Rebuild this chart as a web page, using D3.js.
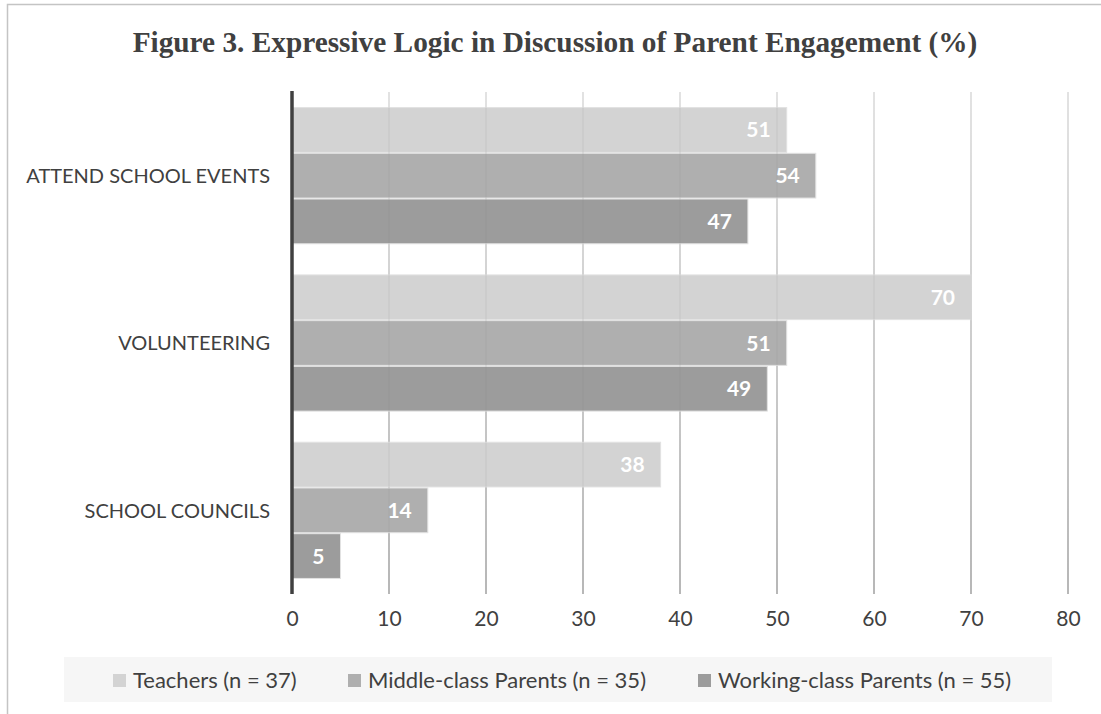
<!DOCTYPE html>
<html><head><meta charset="utf-8">
<script src="https://cdn.jsdelivr.net/npm/d3@7"></script>
<style>body{margin:0;background:#fff}</style>
</head><body>
<svg id="chart" width="1101" height="714"></svg>
<script>
const title = "Figure 3. Expressive Logic in Discussion of Parent Engagement (%)";
const categories = ["ATTEND SCHOOL EVENTS", "VOLUNTEERING", "SCHOOL COUNCILS"];
const seriesNames = ["Teachers (n = 37)", "Middle-class Parents (n = 35)", "Working-class Parents (n = 55)"];
const teachers = [51, 70, 38];
const middleClass = [54, 51, 14];
const workingClass = [47, 49, 5];
const tickValues = [0, 10, 20, 30, 40, 50, 60, 70, 80];
const colors = ["#d3d3d3", "#afafaf", "#9c9c9c"];

const series = [teachers, middleClass, workingClass];
const svg = d3.select("#chart");
const font = "Lato, 'Open Sans', sans-serif";
const textColor = "#404040";

// figure border
svg.append("path").attr("d", "M7.5,714 V4.5 H1101").attr("fill", "none")
  .attr("stroke", "#c4c4c4").attr("stroke-width", 1.5);

// title
svg.append("text").attr("x", 555).attr("y", 52).attr("text-anchor", "middle")
  .attr("font-family", "'Liberation Serif', 'Times New Roman', serif")
  .attr("font-weight", "bold").attr("font-size", 29.3).attr("fill", textColor).text(title);

const x = d3.scaleLinear().domain([0, 80]).range([292, 1068]);
const y0 = d3.scaleBand().domain(categories).range([92, 594]).paddingInner(0.18).paddingOuter(0.09);
const y1 = d3.scaleBand().domain(d3.range(series.length)).range([0, y0.bandwidth()]);

// gridline gradient
const defs = svg.append("defs");
const grad = defs.append("linearGradient").attr("id", "gridGrad")
  .attr("gradientUnits", "userSpaceOnUse").attr("x1", 0).attr("x2", 0).attr("y1", 92).attr("y2", 594);
grad.append("stop").attr("offset", "0").attr("stop-color", "#e6e6e6");
grad.append("stop").attr("offset", "1").attr("stop-color", "#a6a6a6");

const gridVals = tickValues.filter(d => d > 0);
svg.append("g").selectAll("line").data(gridVals).join("line")
  .attr("x1", d => x(d)).attr("x2", d => x(d)).attr("y1", 92).attr("y2", 594)
  .attr("stroke", "url(#gridGrad)").attr("stroke-width", 1.5);

// bars
const rows = [];
categories.forEach((c, i) => series.forEach((s, j) => rows.push({c, j, v: s[i]})));
svg.append("g").selectAll("rect").data(rows).join("rect")
  .attr("x", x(0)).attr("y", d => y0(d.c) + y1(d.j) + 0.5)
  .attr("width", d => x(d.v) - x(0)).attr("height", y1.bandwidth() - 1)
  .attr("fill", d => colors[d.j]).attr("stroke", "#e2e2e2").attr("stroke-width", 1);

// faint gridlines showing through bars
svg.append("g").selectAll("line").data(gridVals).join("line")
  .attr("x1", d => x(d)).attr("x2", d => x(d)).attr("y1", 92).attr("y2", 594)
  .attr("stroke", "#808080").attr("stroke-opacity", 0.12).attr("stroke-width", 1.5);

// value labels
svg.append("g").selectAll("text").data(rows).join("text")
  .attr("x", d => x(d.v) - 16).attr("y", d => y0(d.c) + y1(d.j) + y1.bandwidth() / 2)
  .attr("dy", "0.36em").attr("text-anchor", "end")
  .attr("font-family", font).attr("font-weight", "bold").attr("font-size", 21)
  .attr("fill", "#ffffff").text(d => d.v);

// y axis line
svg.append("line").attr("x1", x(0)).attr("x2", x(0)).attr("y1", 91).attr("y2", 594)
  .attr("stroke", "#404040").attr("stroke-width", 3.5);

// category labels
const yAxis = d3.axisLeft(y0).tickSize(0).tickPadding(22);
const ya = svg.append("g").attr("transform", `translate(${x(0)},0)`).call(yAxis);
ya.select(".domain").remove();
ya.selectAll("text").attr("font-family", font).attr("font-size", 20).attr("fill", textColor).attr("dy", "0.36em");

// x axis labels
const xAxis = d3.axisBottom(x).tickValues(tickValues).tickSize(0).tickPadding(24);
const xa = svg.append("g").attr("transform", "translate(0,594)").call(xAxis);
xa.select(".domain").remove();
xa.selectAll("text").attr("font-family", font).attr("font-size", 21).attr("fill", textColor).attr("dy", "0.36em");

// legend
svg.append("rect").attr("x", 64).attr("y", 657).attr("width", 988).attr("height", 45).attr("fill", "#f6f6f6");
const legendX = [113, 348, 698];
const lg = svg.append("g").selectAll("g").data(seriesNames).join("g")
  .attr("transform", (d, i) => `translate(${legendX[i]},680)`);
lg.append("rect").attr("x", 0).attr("y", -6).attr("width", 13).attr("height", 13).attr("fill", (d, i) => colors[i]);
lg.append("text").attr("x", 20).attr("y", 0).attr("dy", "0.36em")
  .attr("font-family", font).attr("font-size", 22).attr("fill", textColor).text(d => d);
</script>
</body></html>
